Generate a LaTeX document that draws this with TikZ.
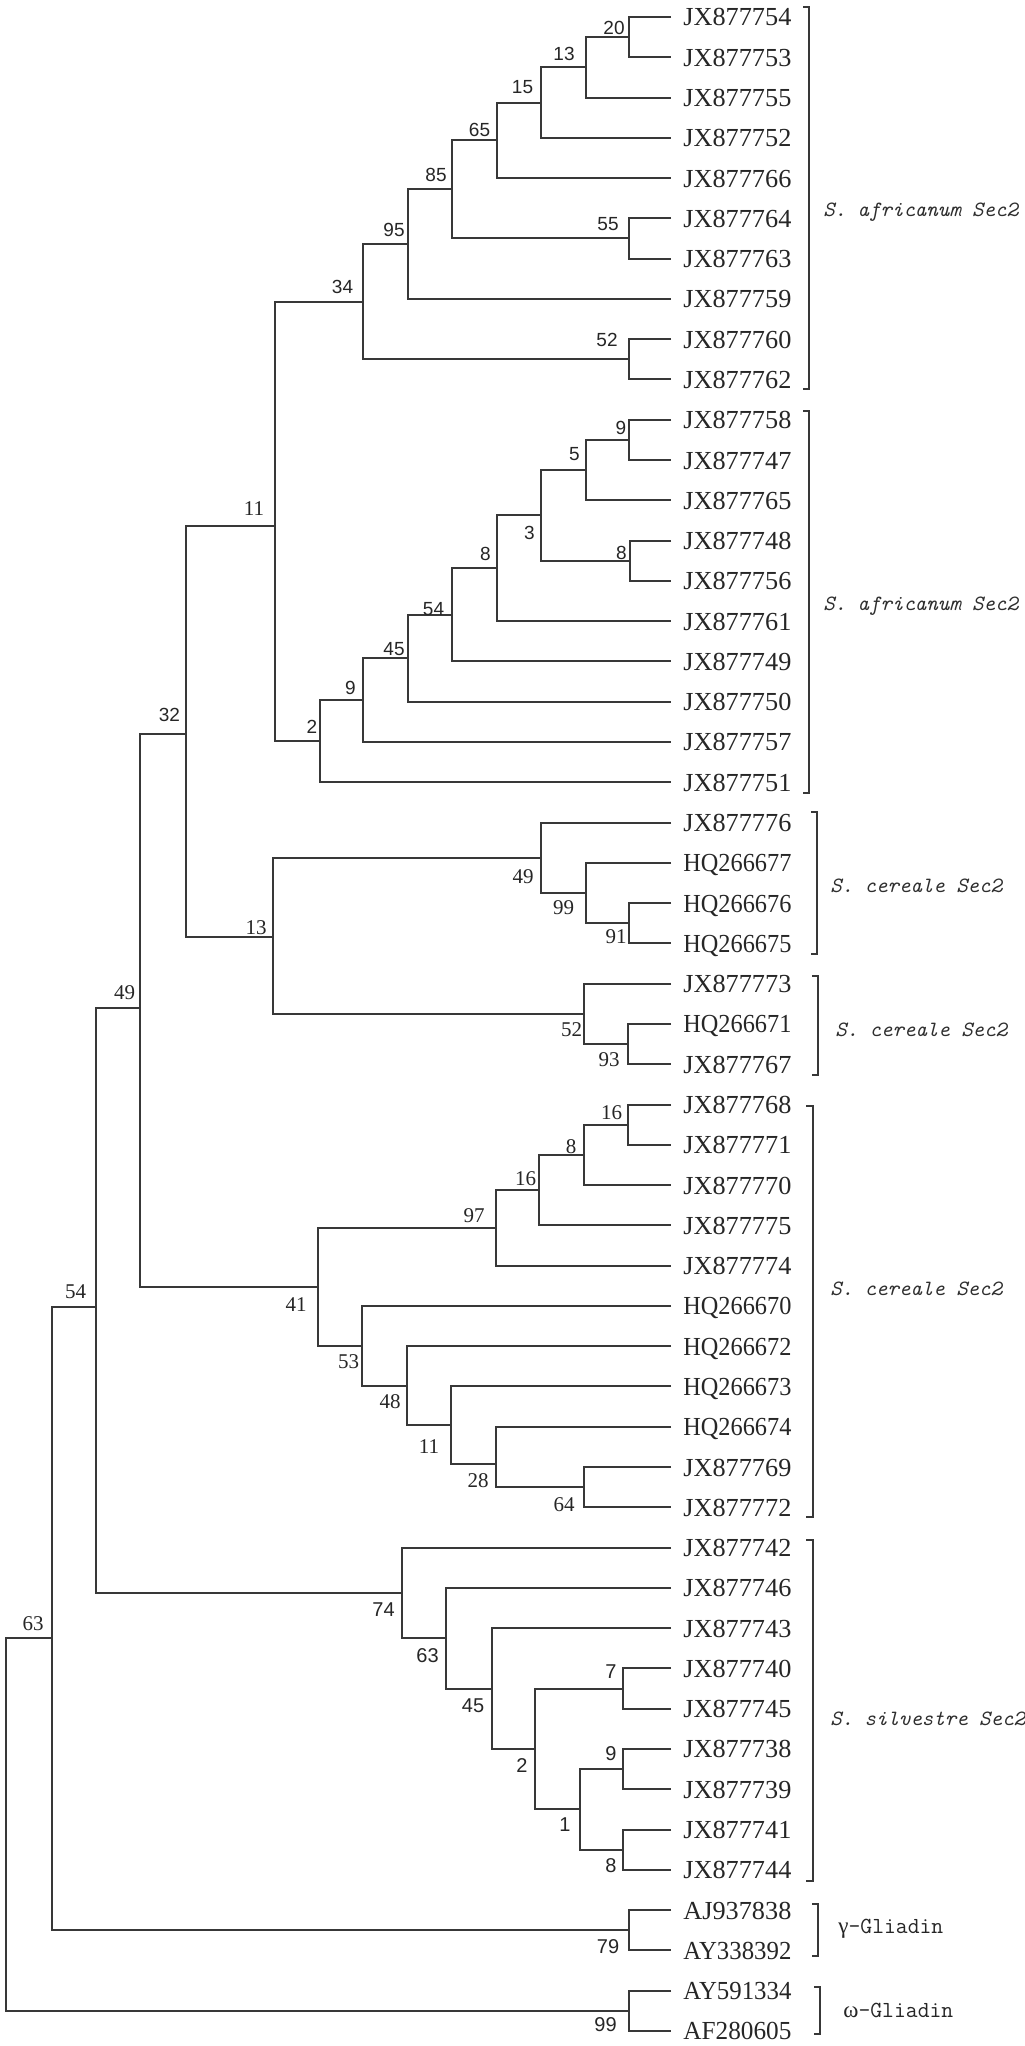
\documentclass[tikz,border=0pt]{standalone}
\usepackage{fontspec}
\usepackage{graphicx}
\setmainfont{Liberation Serif}
\newfontfamily\lsans{Liberation Sans}
\newcommand\leaflab[1]{\resizebox{54pt}{\height}{#1}}
\begin{document}
\begin{tikzpicture}[x=0.5pt,y=-0.4985pt,
  br/.style={draw=black!78, line width=1pt},
  leaf/.style={anchor=west, inner sep=0pt, xshift=6pt, text height=9pt, text depth=0pt, font=\fontsize{13}{14}\selectfont, text=black!85},
  bss/.style={inner sep=0pt, font=\lsans\fontsize{9.5}{10}\selectfont, text=black!85},
  bsr/.style={inner sep=0pt, font=\fontsize{10.5}{11}\selectfont, text=black!85},
  bsn/.style={inner sep=0pt, font=\lsans\fontsize{10}{11}\selectfont, text=black!85},
  grp/.style={anchor=west, inner sep=0pt, font=\ttfamily\itshape\fontsize{10.9}{12}\selectfont, text=black!82},
  gli/.style={anchor=west, inner sep=0pt, font=\ttfamily\fontsize{11.5}{12}\selectfont, text=black!85},
  brk/.style={draw=black!78, line width=1pt}]
\useasboundingbox (0pt,0pt) rectangle (512pt,-1023pt);
\fill[white] (0pt,0pt) rectangle (512pt,-1023pt);

% leaves
\foreach \i/\t in {0/JX877754,1/JX877753,2/JX877755,3/JX877752,4/JX877766,5/JX877764,6/JX877763,7/JX877759,8/JX877760,9/JX877762,
  10/JX877758,11/JX877747,12/JX877765,13/JX877748,14/JX877756,15/JX877761,16/JX877749,17/JX877750,18/JX877757,19/JX877751,
  20/JX877776,21/HQ266677,22/HQ266676,23/HQ266675,24/JX877773,25/HQ266671,26/JX877767,
  27/JX877768,28/JX877771,29/JX877770,30/JX877775,31/JX877774,32/HQ266670,33/HQ266672,34/HQ266673,35/HQ266674,36/JX877769,37/JX877772,
  38/JX877742,39/JX877746,40/JX877743,41/JX877740,42/JX877745,43/JX877738,44/JX877739,45/JX877741,46/JX877744,
  47/AJ937838,48/AY338392,49/AY591334,50/AF280605}{
  \coordinate (e\i) at (671,{17+40.4*\i});
  \node[leaf] (t\i) at (e\i) {\leaflab{\t}};
}

% internal nodes
\coordinate (n20) at (629,37.2);
\coordinate (n13) at (586,67.5);
\coordinate (n15) at (541,102.85);
\coordinate (n65) at (497,140.7);
\coordinate (n55) at (629,239.2);
\coordinate (n85) at (452,190);
\coordinate (n95) at (408,244.9);
\coordinate (n52) at (629,360.4);
\coordinate (n34) at (363,302.6);
\coordinate (m9) at (629,441.2);
\coordinate (m5) at (586,471.5);
\coordinate (m8a) at (630,562.4);
\coordinate (m3) at (541,517);
\coordinate (m8b) at (497,570);
\coordinate (m54) at (452,616.7);
\coordinate (m45) at (408,660.2);
\coordinate (m9b) at (363,702.2);
\coordinate (m2) at (320,743.4);
\coordinate (n11) at (275,528);
\coordinate (c91) at (629,926);
\coordinate (c99) at (586,895.7);
\coordinate (c49) at (541,860.4);
\coordinate (c93) at (628,1047.2);
\coordinate (c52) at (584,1016.9);
\coordinate (c13) at (273,940);
\coordinate (n32) at (186,736);
\coordinate (d16a) at (628,1128);
\coordinate (d8) at (584,1158.3);
\coordinate (d16b) at (539,1193.7);
\coordinate (d97) at (496,1231.5);
\coordinate (d64) at (584,1491.6);
\coordinate (d28) at (496,1468);
\coordinate (d11) at (451,1429.3);
\coordinate (d48) at (407,1389.8);
\coordinate (d53) at (362,1349.8);
\coordinate (d41) at (318,1290.7);
\coordinate (n49) at (140,1011);
\coordinate (s7) at (623,1693.6);
\coordinate (s9) at (623,1774.4);
\coordinate (s8) at (623,1855.2);
\coordinate (s1) at (580,1814.8);
\coordinate (s2) at (535,1754.2);
\coordinate (s45) at (492,1693.6);
\coordinate (s63) at (446,1643.1);
\coordinate (s74) at (402,1597.7);
\coordinate (n54) at (96,1311);
\coordinate (g79) at (629,1936);
\coordinate (n63) at (52,1643);
\coordinate (o99) at (629,2016.8);
\coordinate (rt) at (6,1830);

% branches
\draw[br] (e0) -| (n20) |- (e1);
\draw[br] (n20) -| (n13) |- (e2);
\draw[br] (n13) -| (n15) |- (e3);
\draw[br] (n15) -| (n65) |- (e4);
\draw[br] (e5) -| (n55) |- (e6);
\draw[br] (n65) -| (n85) |- (n55);
\draw[br] (n85) -| (n95) |- (e7);
\draw[br] (e8) -| (n52) |- (e9);
\draw[br] (n95) -| (n34) |- (n52);
\draw[br] (e10) -| (m9) |- (e11);
\draw[br] (m9) -| (m5) |- (e12);
\draw[br] (e13) -| (m8a) |- (e14);
\draw[br] (m5) -| (m3) |- (m8a);
\draw[br] (m3) -| (m8b) |- (e15);
\draw[br] (m8b) -| (m54) |- (e16);
\draw[br] (m54) -| (m45) |- (e17);
\draw[br] (m45) -| (m9b) |- (e18);
\draw[br] (m9b) -| (m2) |- (e19);
\draw[br] (n34) -| (n11) |- (m2);
\draw[br] (e22) -| (c91) |- (e23);
\draw[br] (e21) -| (c99) |- (c91);
\draw[br] (e20) -| (c49) |- (c99);
\draw[br] (e25) -| (c93) |- (e26);
\draw[br] (e24) -| (c52) |- (c93);
\draw[br] (c49) -| (c13) |- (c52);
\draw[br] (n11) -| (n32) |- (c13);
\draw[br] (e27) -| (d16a) |- (e28);
\draw[br] (d16a) -| (d8) |- (e29);
\draw[br] (d8) -| (d16b) |- (e30);
\draw[br] (d16b) -| (d97) |- (e31);
\draw[br] (e36) -| (d64) |- (e37);
\draw[br] (e35) -| (d28) |- (d64);
\draw[br] (e34) -| (d11) |- (d28);
\draw[br] (e33) -| (d48) |- (d11);
\draw[br] (e32) -| (d53) |- (d48);
\draw[br] (d97) -| (d41) |- (d53);
\draw[br] (n32) -| (n49) |- (d41);
\draw[br] (e41) -| (s7) |- (e42);
\draw[br] (e43) -| (s9) |- (e44);
\draw[br] (e45) -| (s8) |- (e46);
\draw[br] (s9) -| (s1) |- (s8);
\draw[br] (s7) -| (s2) |- (s1);
\draw[br] (e40) -| (s45) |- (s2);
\draw[br] (e39) -| (s63) |- (s45);
\draw[br] (e38) -| (s74) |- (s63);
\draw[br] (n49) -| (n54) |- (s74);
\draw[br] (e47) -| (g79) |- (e48);
\draw[br] (n54) -| (n63) |- (g79);
\draw[br] (e49) -| (o99) |- (e50);
\draw[br] (n63) -| (rt) |- (o99);

% bootstrap values
\node[bss] (b1) at (614,28.5) {20};
\node[bss] (b2) at (564,54.5) {13};
\node[bss] (b3) at (522.5,87.5) {15};
\node[bss] (b4) at (479.5,130) {65};
\node[bss] (b5) at (436,175.5) {85};
\node[bss] (b6) at (608,224.5) {55};
\node[bss] (b7) at (394,230.5) {95};
\node[bss] (b8) at (342.5,287.5) {34};
\node[bss] (b9) at (607,340.5) {52};
\node[bss] (b10) at (621,429.5) {9};
\node[bss] (b11) at (574.5,455.5) {5};
\node[bss] (b12) at (621.5,554.5) {8};
\node[bss] (b13) at (529.5,535) {3};
\node[bss] (b14) at (485.5,555.5) {8};
\node[bss] (b15) at (433.5,610.5) {54};
\node[bss] (b16) at (394,650.5) {45};
\node[bss] (b17) at (350.5,690.5) {9};
\node[bss] (b18) at (312,729.5) {2};
\node[bsr] (b19) at (254,510) {11};
\node[bsr] (b20) at (523,879) {49};
\node[bsr] (b21) at (563.5,910) {99};
\node[bsr] (b22) at (616,939) {91};
\node[bsr] (b23) at (571.5,1032.5) {52};
\node[bsr] (b24) at (609,1063) {93};
\node[bsr] (b25) at (256,930.5) {13};
\node[bss] (b26) at (169.5,717.5) {32};
\node[bsr] (b27) at (611.5,1115.5) {16};
\node[bsr] (b28) at (571,1150.5) {8};
\node[bsr] (b29) at (525.5,1182.5) {16};
\node[bsr] (b30) at (474,1219.5) {97};
\node[bsr] (b31) at (296,1308.5) {41};
\node[bsr] (b32) at (348.5,1365.5) {53};
\node[bsr] (b33) at (390,1405.5) {48};
\node[bsr] (b34) at (429,1450.5) {11};
\node[bsr] (b35) at (478,1485.5) {28};
\node[bsr] (b36) at (564,1509.5) {64};
\node[bsr] (b37) at (124.5,995.5) {49};
\node[bsr] (b38) at (75.5,1295.5) {54};
\node[bsr] (b39) at (33,1628.5) {63};
\node[bsn] (b40) at (383.5,1614.5) {74};
\node[bsn] (b41) at (427.5,1660.5) {63};
\node[bsn] (b42) at (473,1710.5) {45};
\node[bsn] (b43) at (522,1770.5) {2};
\node[bsn] (b44) at (565,1830.5) {1};
\node[bsn] (b45) at (611,1676.5) {7};
\node[bsn] (b46) at (611,1758.5) {9};
\node[bsn] (b47) at (611,1871.5) {8};
\node[bsn] (b48) at (608,1952.5) {79};
\node[bsn] (b49) at (605.5,2030.5) {99};

% group brackets
\draw[brk] (803,7) -- (809,7) -- (809,390) -- (803,390);
\draw[brk] (803,412) -- (809,412) -- (809,795) -- (803,795);
\draw[brk] (811,814) -- (817,814) -- (817,957) -- (811,957);
\draw[brk] (812,979) -- (818,979) -- (818,1078) -- (812,1078);
\draw[brk] (806,1109) -- (813,1109) -- (813,1522) -- (806,1522);
\draw[brk] (806,1545) -- (813,1545) -- (813,1887) -- (806,1887);
\draw[brk] (812,1910) -- (818,1910) -- (818,1962) -- (812,1962);
\draw[brk] (814,1993) -- (820,1993) -- (820,2040) -- (814,2040);

% group labels
\node[grp] (g1) at (823,213) {S. africanum Sec2};
\node[grp] (g2) at (823,608) {S. africanum Sec2};
\node[grp] (g3) at (830,888) {S. cereale Sec2};
\node[grp] (g4) at (835,1033) {S. cereale Sec2};
\node[grp] (g5) at (830,1293) {S. cereale Sec2};
\node[grp] (g6) at (830,1724) {S. silvestre Sec2};
\node[gli] (g7) at (838,1935) {{\rmfamily γ}-Gliadin};
\node[gli] (g8) at (843,2016) {{\rmfamily ω}-Gliadin};
\end{tikzpicture}
\end{document}
